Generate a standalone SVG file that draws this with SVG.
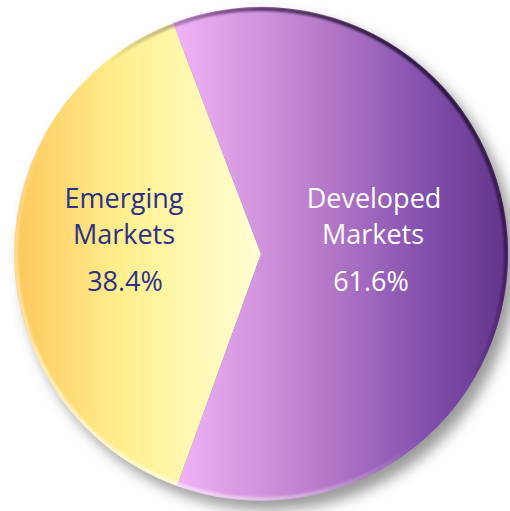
<svg xmlns="http://www.w3.org/2000/svg" width="510" height="511" viewBox="0 0 510 511">
  <style>
    .lbl { font-family: "Open Sans", "Liberation Sans", sans-serif; font-size: 27px; text-anchor: middle; }
    .em { fill: #2B3088; }
    .dv { fill: #FFFFFF; }
  </style>
  <defs>
    <filter id="shadowBlur" x="-20%" y="-20%" width="140%" height="140%">
      <feGaussianBlur stdDeviation="7"/>
    </filter>
    <filter id="rimBlur" x="-5%" y="-5%" width="110%" height="110%">
      <feGaussianBlur stdDeviation="1"/>
    </filter>
    <linearGradient id="gYellow" gradientUnits="userSpaceOnUse" x1="14" y1="0" x2="262" y2="0">
      <stop offset="0" stop-color="#FCC85C"/>
      <stop offset="0.45" stop-color="#FFF090"/>
      <stop offset="1" stop-color="#FFFFD6"/>
    </linearGradient>
    <linearGradient id="gPurple" gradientUnits="userSpaceOnUse" x1="175" y1="0" x2="508" y2="0">
      <stop offset="0" stop-color="#F0B4F6"/>
      <stop offset="0.4" stop-color="#BE80CE"/>
      <stop offset="0.75" stop-color="#8450AE"/>
      <stop offset="1" stop-color="#62348A"/>
    </linearGradient>
    <linearGradient id="gRim" gradientUnits="objectBoundingBox" x1="0.85" y1="0.1" x2="0.15" y2="0.9">
      <stop offset="0" stop-color="#1A0A28" stop-opacity="0.95"/>
      <stop offset="0.42" stop-color="#1A0A28" stop-opacity="0"/>
      <stop offset="0.58" stop-color="#FFFFFF" stop-opacity="0"/>
      <stop offset="1" stop-color="#FFFFFF" stop-opacity="0.65"/>
    </linearGradient>
    <clipPath id="pieClip">
      <circle cx="261" cy="254" r="247"/>
    </clipPath>
  </defs>

  <rect width="510" height="511" fill="#FFFFFF"/>

  <circle cx="269" cy="263" r="247" fill="#555555" fill-opacity="0.6" filter="url(#shadowBlur)"/>

  <g id="slice-emerging">
    <path d="M261,254 L177,486 A247,247 0 0 1 173,23 Z" fill="url(#gYellow)"/>
  </g>
  <g id="slice-developed">
    <path d="M261,254 L173,23 A247,247 0 1 1 177,486 Z" fill="url(#gPurple)"/>
  </g>

  <g clip-path="url(#pieClip)">
    <circle cx="261" cy="254" r="245" fill="none" stroke="url(#gRim)" stroke-width="4" filter="url(#rimBlur)"/>
  </g>

  <g id="connectors"/>

  <g id="label-emerging">
    <text class="lbl em" x="124" y="208">Emerging</text>
    <text class="lbl em" x="124" y="244">Markets</text>
    <text class="lbl em" x="125" y="291">38.4%</text>
  </g>
  <g id="label-developed">
    <text class="lbl dv" x="374" y="208">Developed</text>
    <text class="lbl dv" x="373" y="244">Markets</text>
    <text class="lbl dv" x="371" y="291">61.6%</text>
  </g>
</svg>
